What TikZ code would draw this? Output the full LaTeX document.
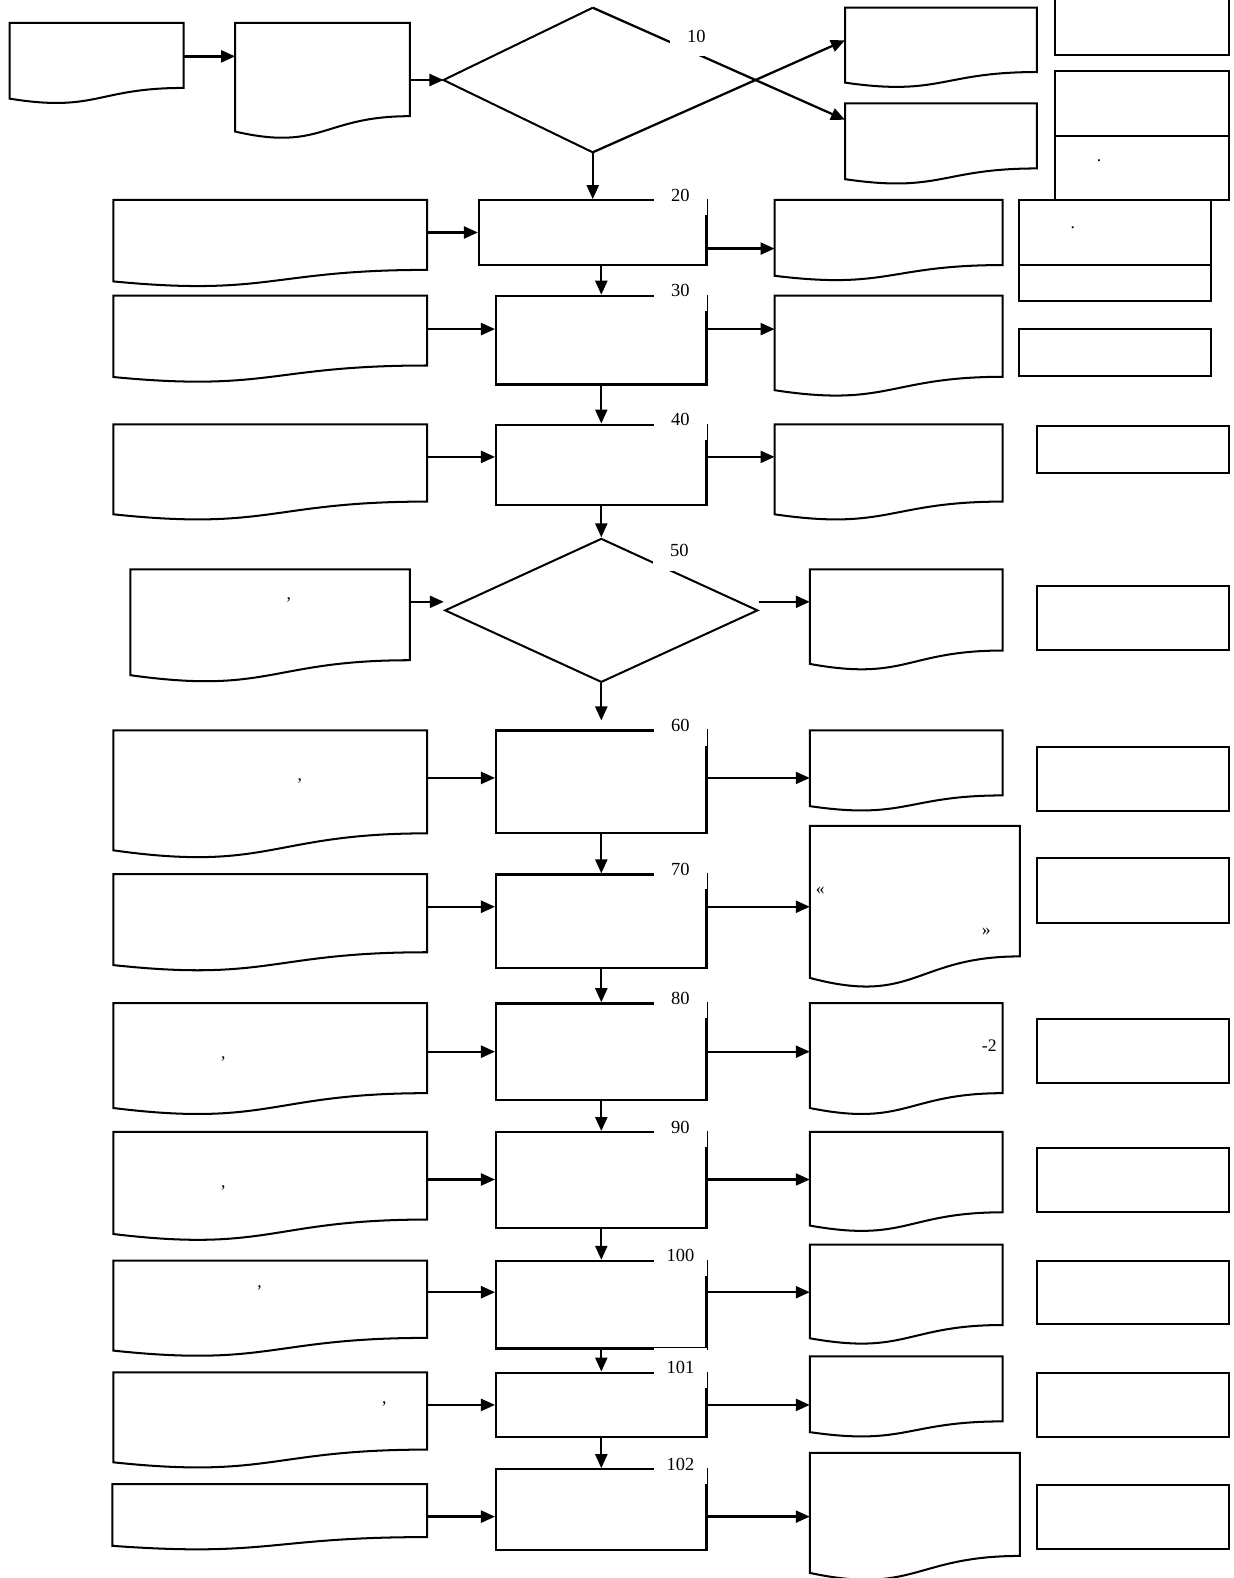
\documentclass[tikz,border=0pt]{standalone}
\usepackage{fontspec}
\setmainfont{Liberation Serif}
\usetikzlibrary{arrows.meta,calc,fit,shapes.geometric}

\tikzset{
  frame/.style={line width=1.15pt},
  docbox/.style={fit={#1},inner sep=0pt},
  procbox/.style={fit={#1},inner sep=0pt,draw,line width=1.3pt},
  sidebox/.style={fit={#1},inner sep=0pt,draw,line width=1.15pt},
  choice/.style={diamond,inner sep=0pt,minimum width=#1},
  numlbl/.style={fill=white,inner sep=0pt,minimum width=1.05cm,minimum height=0.8cm,
    font=\fontsize{10.5}{12}\selectfont},
  punct/.style={inner sep=0pt,font=\fontsize{10}{12}\selectfont},
  flow/.style={line width=1.3pt,-{Triangle[length=0.28cm,width=0.24cm]}},
}

% document symbol drawn on the frame of a fitted node
\newcommand\docshape[1]{%
  \draw[frame] (#1.north west) -- (#1.north east)
    -- ($(#1.north east)!0.802!(#1.south east)$)
    .. controls ($(#1.north)!0.802!(#1.south)$) and ($(#1.north)!1.107!(#1.south)$)
    .. ($(#1.north west)!0.934!(#1.south west)$) -- cycle;}

\begin{document}
\begin{tikzpicture}[x=0.0201cm,y=-0.0201cm]
  \useasboundingbox (0,0) rectangle (1226,1568);

  % arrow levels
  \coordinate (y0a) at (0,56);
  \coordinate (y0c) at (0,40);
  \coordinate (y0d) at (0,119);
  \coordinate (y20) at (0,231);
  \coordinate (y20r) at (0,247);
  \coordinate (y30) at (0,327);
  \coordinate (y40) at (0,454);
  \coordinate (y50) at (0,598);
  \coordinate (y60) at (0,773);
  \coordinate (y70) at (0,901);
  \coordinate (y80) at (0,1045);
  \coordinate (y90) at (0,1172);
  \coordinate (y100) at (0,1284);
  \coordinate (y101) at (0,1396);
  \coordinate (y102) at (0,1507);

  % documents
  \node[docbox={(10,23) (182,103)}] (dA) {};
  \node[docbox={(234,23) (407,138)}] (dB) {};
  \node[docbox={(840,8) (1030,87)}] (dC) {};
  \node[docbox={(840,103) (1030,183)}] (dD) {};
  \node[docbox={(113,199) (424,285)}] (l20) {};
  \node[docbox={(770,199) (996,279)}] (r20) {};
  \node[docbox={(113,294) (424,380)}] (l30) {};
  \node[docbox={(770,294) (996,394)}] (r30) {};
  \node[docbox={(113,422) (424,517)}] (l40) {};
  \node[docbox={(770,422) (996,517)}] (r40) {};
  \node[docbox={(130,566) (407,678)}] (l50) {};
  \node[docbox={(805,566) (996,666)}] (r50) {};
  \node[docbox={(113,726) (424,853)}] (l60) {};
  \node[docbox={(805,726) (996,806)}] (r60) {};
  \node[docbox={(113,869) (424,965)}] (l70) {};
  \node[docbox={(805,821) (1013,982)}] (r70) {};
  \node[docbox={(113,997) (424,1108)}] (l80) {};
  \node[docbox={(805,997) (996,1108)}] (r80) {};
  \node[docbox={(113,1125) (424,1233)}] (l90) {};
  \node[docbox={(805,1125) (996,1224)}] (r90) {};
  \node[docbox={(113,1253) (424,1348)}] (l100) {};
  \node[docbox={(805,1237) (996,1336)}] (r100) {};
  \node[docbox={(113,1364) (424,1459)}] (l101) {};
  \node[docbox={(805,1348) (996,1428)}] (r101) {};
  \node[docbox={(112,1475) (424,1540)}] (l102) {};
  \node[docbox={(805,1444) (1013,1571)}] (r102) {};
  \foreach \d in {dA,dB,dC,dD,l20,r20,l30,r30,l40,r40,l50,r50,l60,r60,
                  l70,r70,l80,r80,l90,r90,l100,r100,l101,r101,l102,r102}
    \docshape{\d};

  % decisions
  \node[choice=296*0.0201cm,minimum height=143*0.0201cm] (d10) at (589,79.5) {};
  \draw[frame] (d10.north) -- (d10.west) -- (d10.south);
  \node[choice=311*0.0201cm,minimum height=143*0.0201cm,draw,frame] (d50) at (597.5,606.5) {};

  % process steps
  \node[procbox={(476,199) (702,263)}] (p20) {};
  \node[procbox={(493,294) (702,382)}] (p30) {};
  \node[procbox={(493,422) (702,502)}] (p40) {};
  \node[procbox={(493,726) (702,828)}] (p60) {};
  \node[procbox={(493,869) (702,962)}] (p70) {};
  \node[procbox={(493,997) (702,1093)}] (p80) {};
  \node[procbox={(493,1125) (702,1220)}] (p90) {};
  \node[procbox={(493,1253) (702,1340)}] (p100) {};
  \node[procbox={(493,1364) (702,1428)}] (p101) {};
  \node[procbox={(493,1460) (702,1540)}] (p102) {};

  % side column
  \node[sidebox={(1048,-6) (1221,55)}] (s1) {};
  \node[sidebox={(1048,71) (1221,199)}] (s2) {};
  \node[sidebox={(1013,199) (1203,299)}] (s3) {};
  \node[sidebox={(1013,327) (1203,374)}] (s4) {};
  \node[sidebox={(1030,423) (1221,470)}] (s5) {};
  \node[sidebox={(1030,582) (1221,646)}] (s6) {};
  \node[sidebox={(1030,742) (1221,806)}] (s7) {};
  \node[sidebox={(1030,853) (1221,917)}] (s8) {};
  \node[sidebox={(1030,1013) (1221,1076)}] (s9) {};
  \node[sidebox={(1030,1141) (1221,1204)}] (s10) {};
  \node[sidebox={(1030,1253) (1221,1316)}] (s11) {};
  \node[sidebox={(1030,1364) (1221,1428)}] (s12) {};
  \node[sidebox={(1030,1476) (1221,1539)}] (s13) {};
  \draw[frame] (s2.west) -- (s2.east);
  \draw[frame] ($(s3.north west)!0.64!(s3.south west)$) -- ($(s3.north east)!0.64!(s3.south east)$);

  % connectors
  \draw[flow] (dA.east |- y0a) -- (dB.west |- y0a);
  \draw[flow] (dB.east |- d10.west) -- (d10.west);
  \draw[flow] (d10.south) -- (dC.west |- y0c);
  \draw[flow] (d10.north) -- (dD.west |- y0d);
  \draw[flow] (d10.south) -- (p20.north);
  \draw[flow] (p20.south -| p30.north) -- (p30.north);
  \draw[flow] (p30.south) -- (p40.north);
  \draw[flow] (p40.south) -- (d50.north);
  \draw[flow,shorten >=0.18cm] (d50.south) -- (p60.north);
  \draw[flow] (p60.south) -- (p70.north);
  \draw[flow] (p70.south) -- (p80.north);
  \draw[flow] (p80.south) -- (p90.north);
  \draw[flow] (p90.south) -- (p100.north);
  \draw[flow] (p100.south) -- (p101.north);
  \draw[flow] (p101.south) -- (p102.north);

  \draw[flow] (l20.east |- y20) -- (p20.west |- y20);
  \draw[flow] (p20.east |- y20r) -- (r20.west |- y20r);
  \draw[flow] (l50.east |- y50) -- (d50.west |- y50);
  \draw[flow] (d50.east |- y50) -- (r50.west |- y50);
  \foreach \r in {30,40,60,70,80,90,100,101,102} {
    \draw[flow] (l\r.east |- y\r) -- (p\r.west |- y\r);
    \draw[flow] (p\r.east |- y\r) -- (r\r.west |- y\r);
  }

  % step numbers
  \node[numlbl] (n10) at (692,36) {10};
  \node[numlbl] (n50) at (675,547) {50};
  \foreach \r in {20,30,40,60,70,80,90,100,101,102}
    \node[numlbl] (n\r) at ([shift={(-27,-4)}]p\r.north east) {\r};

  % remaining marks of the texts
  \node[punct] (c50) at (287,596) {,};
  \node[punct] (c60) at (298,776) {,};
  \node[punct] (c80) at (222,1052) {,};
  \node[punct] (c90) at (222,1180) {,};
  \node[punct] (c100) at (258,1280) {,};
  \node[punct] (c101) at (382,1395) {,};
  \node[punct] (t2) at (1092,160) {.};
  \node[punct] (t3) at (1066,226) {.};
  \node[punct] (q1) at (815,885) {«};
  \node[punct] (q2) at (980,926) {»};
  \node[punct] (m80) at (983,1039) {-2};
\end{tikzpicture}
\end{document}
